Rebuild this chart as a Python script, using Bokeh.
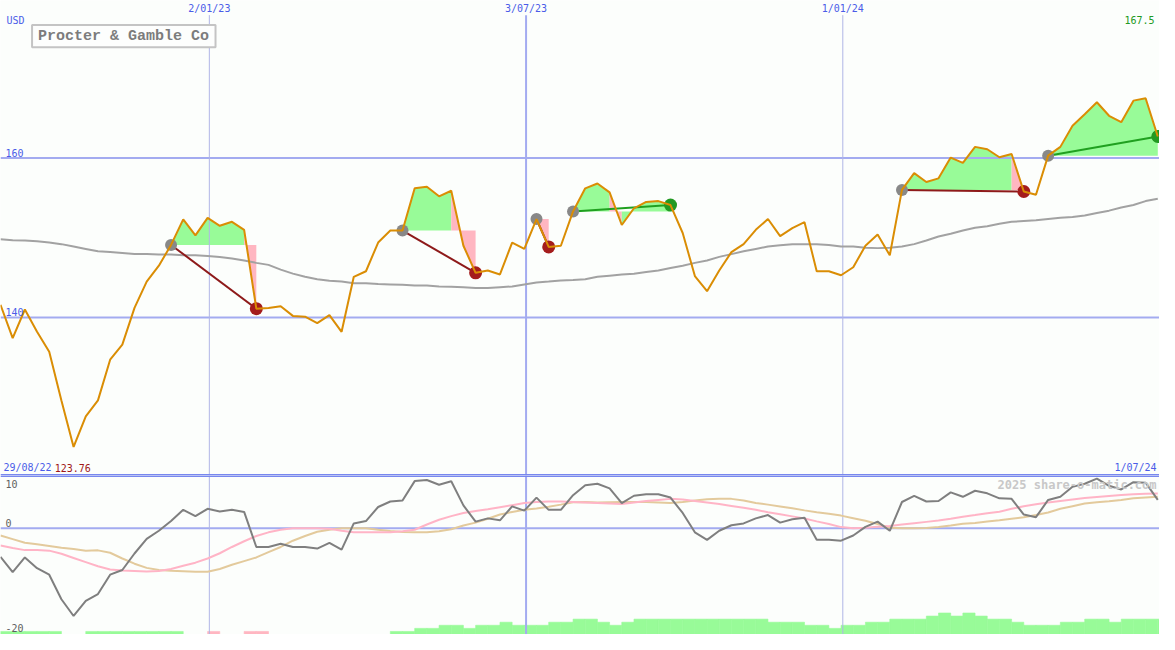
import pandas as pd
from bokeh.plotting import figure
from bokeh.models import Range1d
from bokeh.layouts import column
from bokeh.embed import file_html
from bokeh.resources import INLINE
from bokeh.core.properties import value

# ---------------- data ----------------
company = "Procter & Gamble Co"
currency = "USD"
first_week = "2022-08-29"
first_label = "29/08/22"
last_label = "1/07/24"
date_labels = ["2/01/23", "3/07/23", "1/01/24"]
date_dates = ["2023-01-02", "2023-07-03", "2024-01-01"]
major_date = "3/07/23"
price_ticks = [160, 140]
osc_ticks = [10, 0, -20]
watermark = "2025 share-o-matic.com"

price = [141.6, 137.4, 141.0, 138.2, 135.7, 129.6, 123.76, 127.6, 129.6, 134.7,
         136.6, 141.2, 144.5, 146.5, 149.1, 152.3, 150.3, 152.5, 151.5, 152.0,
         151.0, 141.1, 141.2, 141.4, 140.2, 140.1, 139.3, 140.3, 138.2, 145.1,
         145.8, 149.4, 150.9, 150.9, 156.2, 156.4, 155.2, 155.9, 149.0, 145.6,
         145.9, 145.4, 149.4, 148.6, 152.35, 148.85, 149.0, 153.3, 156.2, 156.8,
         155.7, 151.6, 153.7, 154.5, 154.6, 154.1, 150.6, 145.2, 143.3, 145.9,
         148.2, 149.2, 151.0, 152.35, 150.2, 151.2, 151.95, 145.8, 145.8, 145.3,
         146.3, 149.0, 150.4, 147.8, 156.0, 158.1, 157.0, 157.45, 160.06, 159.4,
         161.4, 161.1, 160.1, 160.5, 155.8, 155.4, 160.3, 161.4, 164.06, 165.5,
         167.0, 165.3, 164.5, 167.2, 167.5, 162.7]

ma = [149.8, 149.7, 149.65, 149.55, 149.4, 149.2, 148.9, 148.6, 148.3, 148.2,
      148.1, 147.95, 147.95, 147.9, 147.9, 147.8, 147.8, 147.7, 147.6, 147.4,
      147.15, 146.85, 146.6, 146.0, 145.5, 145.1, 144.8, 144.6, 144.5, 144.3,
      144.3, 144.2, 144.15, 144.1, 144.0, 144.0, 143.9, 143.85, 143.8, 143.7,
      143.7, 143.8, 143.9, 144.15, 144.4, 144.5, 144.65, 144.7, 144.8, 145.1,
      145.25, 145.4, 145.5, 145.7, 145.9, 146.2, 146.5, 146.85, 147.15, 147.6,
      147.95, 148.3, 148.6, 148.9, 149.05, 149.2, 149.2, 149.2, 149.1, 148.9,
      148.9, 148.75, 148.7, 148.75, 148.9, 149.2, 149.65, 150.15, 150.5, 150.9,
      151.25, 151.45, 151.75, 152.0, 152.1, 152.2, 152.35, 152.5, 152.6, 152.8,
      153.1, 153.4, 153.8, 154.1, 154.6, 154.9]

osc = [-5.47, -8.4, -5.6, -7.65, -8.9, -13.6, -16.8, -13.9, -12.6, -8.9,
       -8.0, -4.85, -2.05, -0.5, 1.36, 3.5, 2.3, 3.7, 3.2, 3.5,
       3.1, -3.6, -3.6, -3.0, -3.6, -3.6, -3.9, -2.8, -4.1, 0.9,
       1.36, 4.05, 5.1, 5.3, 9.0, 9.2, 8.3, 8.96, 4.35, 1.25,
       1.87, 1.5, 4.16, 3.36, 5.84, 3.5, 3.5, 6.3, 8.2, 8.5,
       7.6, 4.8, 6.2, 6.5, 6.5, 5.85, 2.9, -0.8, -2.24, -0.5,
       0.56, 0.9, 1.87, 2.5, 1.06, 1.7, 2.0, -2.2, -2.2, -2.4,
       -1.4, 0.24, 1.25, -0.5, 5.0, 6.16, 5.1, 5.2, 6.85, 6.0,
       7.15, 6.66, 5.7, 5.6, 2.6, 2.1, 5.4, 6.0, 7.9, 8.5,
       9.46, 8.1, 7.4, 8.8, 8.7, 5.4]

osc_pink = [-3.3, -3.8, -4.2, -4.2, -4.3, -4.9, -5.7, -6.5, -7.3, -7.9,
            -8.1, -8.2, -8.3, -8.2, -7.8, -7.2, -6.6, -5.8, -4.8, -3.6,
            -2.5, -1.5, -0.8, -0.3, 0.0, 0.0, 0.0, -0.1, -0.5, -0.8,
            -0.8, -0.8, -0.8, -0.6, -0.3, 0.7, 1.6, 2.3, 2.9, 3.3,
            3.6, 4.0, 4.4, 4.8, 5.0, 5.1, 5.1, 5.0, 4.9, 4.8,
            4.7, 4.6, 4.9, 5.2, 5.4, 5.6, 5.5, 5.2, 4.9, 4.6,
            4.25, 3.9, 3.5, 3.05, 2.65, 2.25, 1.85, 1.3, 0.8, 0.2,
            0.0, 0.1, 0.25, 0.4, 0.7, 0.95, 1.2, 1.45, 1.8, 2.2,
            2.5, 2.85, 3.15, 3.7, 4.2, 4.55, 4.9, 5.2, 5.5, 5.75,
            5.95, 6.15, 6.35, 6.5, 6.6, 6.65]

osc_tan = [-1.4, -2.1, -2.8, -3.1, -3.4, -3.75, -4.0, -4.3, -4.25, -4.7,
           -5.8, -6.8, -7.6, -8.0, -8.15, -8.25, -8.35, -8.35, -7.8, -7.0,
           -6.3, -5.6, -4.6, -3.6, -2.4, -1.5, -0.7, -0.3, 0.0, 0.0,
           0.0, -0.3, -0.55, -0.75, -0.8, -0.8, -0.6, -0.2, 0.5, 1.06,
           1.8, 2.6, 3.1, 3.5, 3.75, 4.1, 4.5, 4.95, 5.0, 4.9,
           4.95, 5.0, 5.0, 5.0, 4.9, 4.8, 5.0, 5.3, 5.55, 5.6,
           5.6, 5.3, 4.8, 4.5, 4.15, 3.8, 3.4, 3.05, 2.75, 2.4,
           1.9, 1.4, 0.8, 0.1, 0.0, 0.0, 0.05, 0.2, 0.5, 0.85,
           1.0, 1.25, 1.5, 1.8, 2.1, 2.5, 3.0, 3.7, 4.2, 4.7,
           4.95, 5.15, 5.4, 5.7, 5.85, 6.0]

# weekly strength bars (positive = green, negative = pink)
bars = [1, 1, 1, 1, 1, 0, 0, 1, 1, 1,
        1, 1, 1, 1, 1, 0, 0, -1, 0, 0,
        -1, -1, 0, 0, 0, 0, 0, 0, 0, 0,
        0, 0, 1, 1, 2, 2, 3, 3, 2, 3,
        3, 4, 3, 3, 3, 4, 4, 5, 5, 4,
        3, 4, 5, 5, 5, 5, 5, 5, 5, 5,
        5, 5, 5, 4, 4, 4, 3, 3, 2, 3,
        3, 4, 4, 5, 5, 5, 6, 7, 6, 7,
        6, 5, 5, 4, 3, 3, 3, 4, 4, 5,
        5, 4, 5, 5, 5, 5]

entries = [14, 33, 44, 47, 74, 86]
exits = [21, 39, 45, 55, 84, 95]

# ---------------- styling / geometry ----------------
W, H_TOP, H_BOT = 1159, 475, 159
ORIG_W, ORIG_TOP, ORIG_BOT = 1175.0, 487.0, 163.0
X_MAX = 95.14
Y_TOP = (120.18, 179.76)
Y_BOT = (-20.34, 10.07)

BG = "#fcfefc"
BLUE_TXT = "#4a5ce8"
GRID = "#a3abf0"
GRID_THIN = "#b0b5e6"
SEP = "#7888ee"
MONO = "DejaVu Sans Mono"
GREEN_FILL = "#98fb98"
PINK_FILL = "#ffb6c1"


def tx(px):
    return px / ORIG_W * X_MAX


def ty_top(py):
    return Y_TOP[1] - py * (Y_TOP[1] - Y_TOP[0]) / ORIG_TOP


def ty_bot(py):
    return Y_BOT[1] - py * (Y_BOT[1] - Y_BOT[0]) / ORIG_BOT


k = list(range(len(price)))
t0 = pd.Timestamp(first_week)
date_pos = [(pd.Timestamp(d) - t0).days / 7.0 - 6.0 / 7.0 for d in date_dates]

x_range = Range1d(0, X_MAX)


def base_fig(h, yr):
    f = figure(width=W, height=h, x_range=x_range, y_range=Range1d(*yr),
               output_backend="svg", toolbar_location=None,
               min_border=0, min_border_left=0, min_border_right=0,
               min_border_top=0, min_border_bottom=0,
               background_fill_color=BG, border_fill_color=BG)
    f.axis.visible = False
    f.grid.visible = False
    f.outline_line_color = None
    return f


# ---------------- top panel ----------------
p1 = base_fig(H_TOP, Y_TOP)

# trade fills: runs of segments coloured by whether the segment ends above entry
fx, fy, fc = [], [], []
for en, ex in zip(entries, exits):
    lvl = price[en]
    runs = []
    for i in range(en, ex):
        col = GREEN_FILL if price[i + 1] >= lvl else PINK_FILL
        if runs and runs[-1][2] == col:
            runs[-1][1] = i + 1
        else:
            runs.append([i, i + 1, col])
    for a, b, col in runs:
        xs = list(range(a, b + 1))
        fx.append(xs + [b, a])
        fy.append([price[j] for j in xs] + [lvl, lvl])
        fc.append(col)
p1.patches(fx, fy, fill_color=fc, line_color=None)

# grid lines
p1.segment(x0=[0] * len(price_ticks), x1=[X_MAX] * len(price_ticks),
           y0=price_ticks, y1=price_ticks, line_color=GRID, line_width=2)
for lab, pos in zip(date_labels, date_pos):
    major = lab == major_date
    p1.segment(x0=[pos], x1=[pos], y0=[Y_TOP[0]], y1=[ty_top(15)],
               line_color=GRID if major else GRID_THIN,
               line_width=2 if major else 1)
p1.segment(x0=[0], x1=[X_MAX], y0=[Y_TOP[0]], y1=[Y_TOP[0]],
           line_color=SEP, line_width=3)

# moving average
p1.line(k, ma, line_color="#a2a2a2", line_width=2)

# trade connectors and markers
for en, ex in zip(entries, exits):
    win = price[ex] >= price[en]
    p1.line([en, ex], [price[en], price[ex]],
            line_color="#20a020" if win else "#8e1a1a", line_width=2)
p1.scatter(entries, [price[e] for e in entries],
           size=12, fill_color="#888888", line_color=None)
p1.scatter(exits, [price[e] for e in exits], size=13,
           fill_color=["#229922" if price[ex] >= price[en] else "#a41c1c"
                       for en, ex in zip(entries, exits)],
           line_color=None)

# price line
p1.line(k, price, line_color="#da8d04", line_width=2)

# title box
p1.quad(left=[tx(32)], right=[tx(218)], top=[ty_top(25)], bottom=[ty_top(48)],
        fill_color="#fdfefd", line_color="#c4c4c4", line_width=2)
p1.text(x=[tx(38)], y=[ty_top(37)], text=[company],
        text_font=value("Liberation Mono"), text_font_size=value("15px"),
        text_font_style="bold", text_color="#7c7c7c",
        text_align="left", text_baseline="middle")

# texts
p1.text(x=[tx(6)], y=[ty_top(20)], text=[currency], text_font=value(MONO),
        text_font_size=value("10px"), text_color=BLUE_TXT,
        text_align="left", text_baseline="middle")
p1.text(x=date_pos, y=[ty_top(8)] * len(date_pos), text=date_labels,
        text_font=value(MONO), text_font_size=value("10px"), text_color=BLUE_TXT,
        text_align="center", text_baseline="middle")
p1.text(x=[tx(5)] * len(price_ticks), y=price_ticks,
        text=[str(t) for t in price_ticks], text_font=value(MONO),
        text_font_size=value("10px"), text_color=BLUE_TXT,
        text_align="left", text_baseline="bottom", y_offset=-1)
p1.text(x=[tx(1170)], y=[ty_top(20)], text=[f"{max(price)}"],
        text_font=value(MONO), text_font_size=value("10px"), text_color="#229922",
        text_align="right", text_baseline="middle")
p1.text(x=[tx(3)], y=[ty_top(479)], text=[first_label], text_font=value(MONO),
        text_font_size=value("10px"), text_color=BLUE_TXT,
        text_align="left", text_baseline="middle")
p1.text(x=[tx(55)], y=[ty_top(479)], text=[f"{min(price)}"], text_font=value(MONO),
        text_font_size=value("10px"), text_color="#a01818",
        text_align="left", text_baseline="middle")
p1.text(x=[tx(1172)], y=[ty_top(479)], text=[last_label], text_font=value(MONO),
        text_font_size=value("10px"), text_color=BLUE_TXT,
        text_align="right", text_baseline="middle")

# ---------------- bottom panel ----------------
p2 = base_fig(H_BOT, Y_BOT)

unit = 3.15 * (Y_BOT[1] - Y_BOT[0]) / ORIG_BOT
bl, br, bt, bc = [], [], [], []
for i, b in enumerate(bars):
    if b == 0:
        continue
    bl.append(i)
    br.append(i + 1)
    bt.append(Y_BOT[0] + abs(b) * unit)
    bc.append(GREEN_FILL if b > 0 else PINK_FILL)
p2.quad(left=bl, right=br, bottom=[Y_BOT[0]] * len(bl), top=bt,
        fill_color=bc, line_color=bc, line_width=0.6)

p2.segment(x0=[0], x1=[X_MAX], y0=[0], y1=[0], line_color=GRID, line_width=2)
for lab, pos in zip(date_labels, date_pos):
    major = lab == major_date
    p2.segment(x0=[pos], x1=[pos], y0=[Y_BOT[0]], y1=[Y_BOT[1]],
               line_color=GRID if major else GRID_THIN,
               line_width=2 if major else 1)
p2.segment(x0=[0], x1=[X_MAX], y0=[Y_BOT[1]], y1=[Y_BOT[1]],
           line_color=SEP, line_width=3)

p2.line(k, osc_tan, line_color="#e3ca9c", line_width=2)
p2.line(k, osc_pink, line_color="#ffb4c6", line_width=2)
p2.line(k, osc, line_color="#7f7f7f", line_width=2)

p2.text(x=[tx(1172)], y=[ty_bot(10)], text=[watermark], text_font=value(MONO),
        text_font_size=value("12px"), text_font_style="bold", text_color="#c8c8c8",
        text_align="right", text_baseline="middle")
baselines = ["top", "bottom", "bottom"]
offsets = [4, -1, -1]
for t, bsl, off in zip(osc_ticks, baselines, offsets):
    p2.text(x=[tx(5)], y=[min(t, Y_BOT[1])], text=[str(t)], text_font=value(MONO),
            text_font_size=value("10px"), text_color="#606060",
            text_align="left", text_baseline=bsl, y_offset=off)

layout = column(p1, p2, spacing=0)
open("out.html", "w").write(file_html(layout, INLINE))
